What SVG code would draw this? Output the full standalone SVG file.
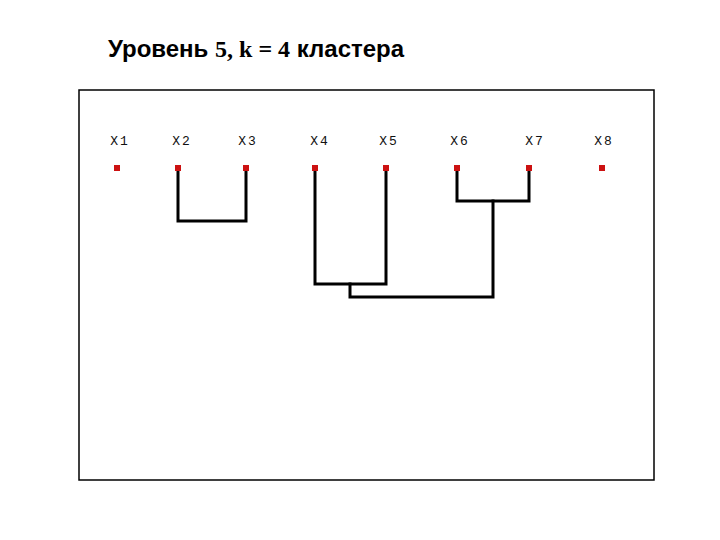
<svg xmlns="http://www.w3.org/2000/svg" width="720" height="540" viewBox="0 0 720 540">
<style>
.title{font-family:"Liberation Sans",Arial,sans-serif;font-size:24px;font-weight:bold;fill:#000}
.serif{font-family:"Liberation Serif","Times New Roman",serif;font-weight:bold}
.lbl{font-family:"Liberation Mono","Courier New",monospace;font-size:13px;fill:#111;text-anchor:middle;letter-spacing:2px}
.pt{fill:#cc1111}
.ln{fill:none;stroke:#000;stroke-width:3;stroke-linejoin:miter;stroke-linecap:square}
</style>
<rect width="720" height="540" fill="#fff"/>
<text class="title" x="108" y="57">Уровень <tspan class="serif">5, k = 4</tspan> кластера</text>
<rect x="79" y="90" width="575" height="390" fill="none" stroke="#000" stroke-width="1.5"/>
<g id="connectors">
<path class="ln" d="M178,168 V221 H246 V168"/>
<path class="ln" d="M315,168 V284 H386 V168"/>
<path class="ln" d="M457,168 V201 H529 V168"/>
<path class="ln" d="M350,284 V297 H493 V201"/>
</g>
<g id="x1"><text class="lbl" x="120" y="145">X1</text><rect class="pt" x="114" y="165" width="6" height="6"/></g>
<g id="x2"><text class="lbl" x="182" y="145">X2</text><rect class="pt" x="175" y="165" width="6" height="6"/></g>
<g id="x3"><text class="lbl" x="248" y="145">X3</text><rect class="pt" x="243" y="165" width="6" height="6"/></g>
<g id="x4"><text class="lbl" x="320" y="145">X4</text><rect class="pt" x="312" y="165" width="6" height="6"/></g>
<g id="x5"><text class="lbl" x="389" y="145">X5</text><rect class="pt" x="383" y="165" width="6" height="6"/></g>
<g id="x6"><text class="lbl" x="460" y="145">X6</text><rect class="pt" x="454" y="165" width="6" height="6"/></g>
<g id="x7"><text class="lbl" x="535" y="145">X7</text><rect class="pt" x="526" y="165" width="6" height="6"/></g>
<g id="x8"><text class="lbl" x="604" y="145">X8</text><rect class="pt" x="599" y="165" width="6" height="6"/></g>
</svg>
